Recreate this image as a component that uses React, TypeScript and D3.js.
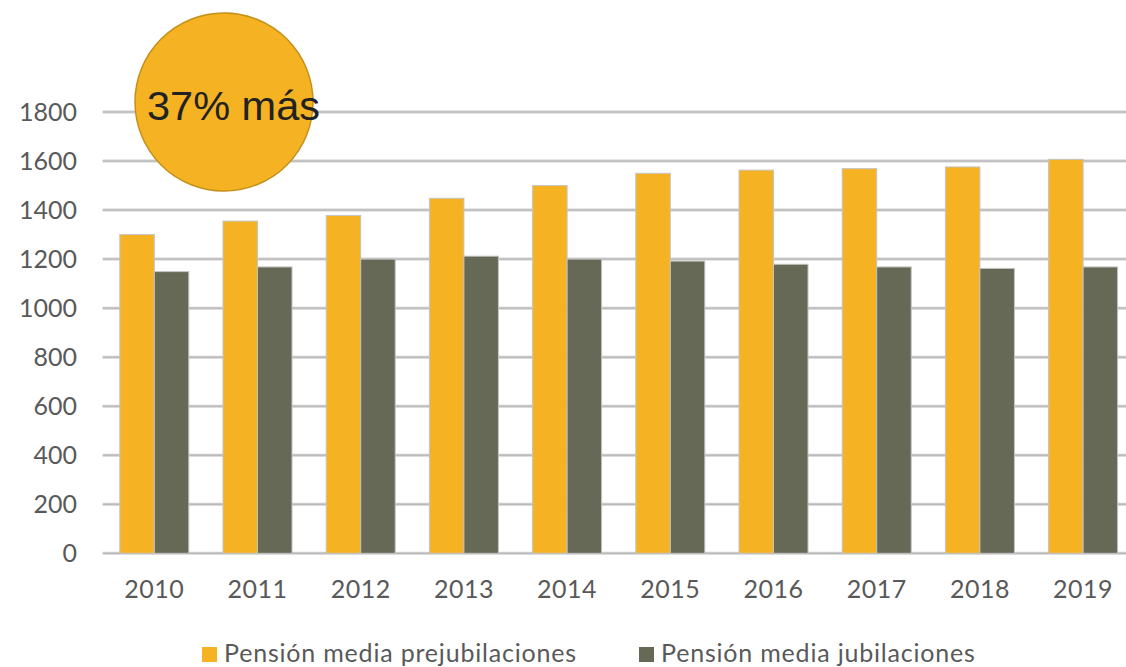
import React from "react";
import * as d3 from "d3";

const years = ["2010", "2011", "2012", "2013", "2014", "2015", "2016", "2017", "2018", "2019"];
const prejubilaciones = [1300, 1355, 1378, 1448, 1500, 1550, 1563, 1569, 1576, 1607];
const jubilaciones = [1149, 1168, 1200, 1212, 1200, 1192, 1179, 1168, 1162, 1168];
const yTicks = [0, 200, 400, 600, 800, 1000, 1200, 1400, 1600, 1800];
const seriesNames = ["Pensión media prejubilaciones", "Pensión media jubilaciones"];
const seriesColors = ["#F5B324", "#666955"];
const calloutText = "37% más";

export default function App() {
  const W = 1126, H = 667;
  const x = d3.scaleBand<string>().domain(years).range([102.7, 1134.7]).paddingInner(0.331).paddingOuter(0.1655);
  const xs = d3.scaleBand<string>().domain(seriesNames).range([0, x.bandwidth()]);
  const y = d3.scaleLinear().domain([0, 1800]).range([553.3, 112]);
  const data = [prejubilaciones, jubilaciones];
  const labelFont = "Lato, 'Open Sans', sans-serif";
  return (
    <svg width={W} height={H} style={{ position: "absolute", left: 0, top: 0, background: "#fff" }}>
      {yTicks.map((t) => (
        <g key={t}>
          <line x1={102.7} x2={W} y1={y(t)} y2={y(t)} stroke="#d0d0d0" strokeWidth={3} />
          <line x1={102.7} x2={W} y1={y(t)} y2={y(t)} stroke="#b4b4b4" strokeWidth={1} />
          <text x={77} y={y(t)} dy="0.36em" textAnchor="end" fontFamily={labelFont} fontSize={25} fill="#595959">{t}</text>
        </g>
      ))}
      {years.map((yr, i) => (
        <g key={yr}>
          {data.map((s, j) => (
            <rect key={j} x={(x(yr) as number) + (xs(seriesNames[j]) as number)} y={y(s[i])} width={xs.bandwidth()} height={y(0) - y(s[i])}
              fill={seriesColors[j]} stroke="#c4c4c4" strokeWidth={1} />
          ))}
          <text x={(x(yr) as number) + x.bandwidth() / 2} y={598} textAnchor="middle" fontFamily={labelFont} fontSize={25} fill="#595959" letterSpacing={0.5}>{yr}</text>
        </g>
      ))}
      <circle cx={224} cy={102} r={89} fill="#F5B324" stroke="#C4901A" strokeWidth={1.5} />
      <text x={147} y={120} fontFamily="'Liberation Sans', Arial, sans-serif" fontSize={41.5} fill="#222">{calloutText}</text>
      {seriesNames.map((n, j) => {
        const lx = j === 0 ? 202 : 639;
        return (
          <g key={n}>
            <rect x={lx} y={647} width={15} height={15} fill={seriesColors[j]} />
            <text x={lx + 22} y={662} fontFamily={labelFont} fontSize={25} fill="#595959" letterSpacing={0.8}>{n}</text>
          </g>
        );
      })}
    </svg>
  );
}
